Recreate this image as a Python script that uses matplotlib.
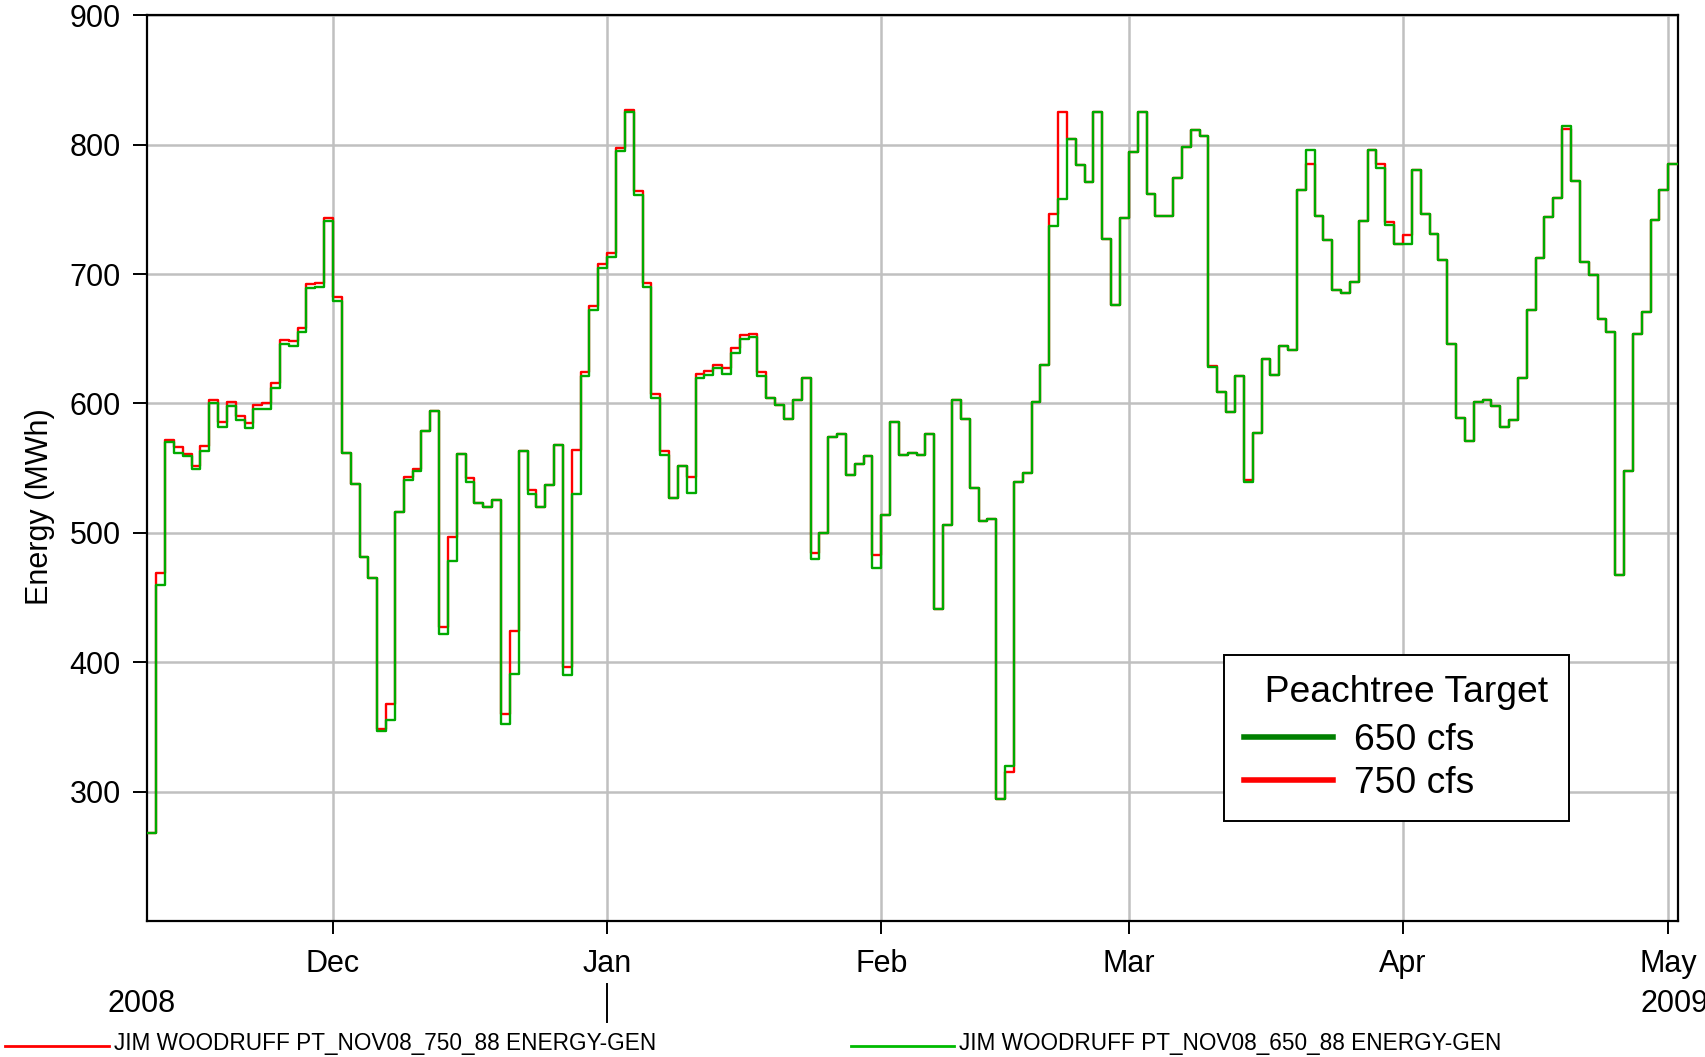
import numpy as np
import pandas as pd
import matplotlib
matplotlib.use("Agg")
import matplotlib.pyplot as plt
import matplotlib.dates as mdates
from matplotlib.lines import Line2D

plt.rcParams['font.family'] = ['Liberation Sans', 'DejaVu Sans']

# daily energy (MWh), 10 Nov 2008 - 1 May 2009
start_day = "2008-11-10"
gen_650 = [268, 460, 570, 562, 559, 549, 563, 600, 582, 598, 587, 581, 596, 596, 612,
           646, 644, 655, 689, 690, 741, 679, 562, 538, 481, 465, 347, 355, 516, 541,
           548, 579, 594, 422, 478, 561, 539, 523, 520, 525, 352, 391, 563, 530, 520,
           537, 568, 390, 530, 621, 672, 705, 713, 795, 825, 761, 690, 604, 560, 527,
           552, 531, 620, 622, 627, 623, 639, 650, 651, 621, 604, 599, 588, 603, 620,
           480, 500, 574, 576, 545, 553, 559, 473, 514, 586, 560, 562, 560, 576, 441,
           506, 603, 588, 535, 509, 511, 294, 320, 539, 546, 601, 630, 737, 758, 804,
           784, 771, 825, 727, 676, 743, 794, 825, 762, 745, 745, 774, 798, 811, 807,
           628, 609, 593, 621, 539, 577, 634, 622, 644, 641, 765, 796, 745, 726, 688,
           685, 694, 741, 796, 782, 738, 723, 723, 780, 746, 731, 711, 646, 589, 571,
           601, 603, 598, 582, 587, 620, 672, 712, 744, 759, 814, 772, 709, 699, 665,
           655, 467, 548, 654, 671, 742, 765, 785]
gen_750 = [268, 469, 572, 566, 561, 552, 567, 603, 586, 601, 590, 585, 599, 600, 616,
           649, 648, 658, 692, 693, 743, 682, 562, 538, 481, 465, 348, 368, 516, 543,
           549, 579, 594, 427, 497, 561, 542, 523, 520, 525, 360, 424, 563, 533, 520,
           537, 568, 396, 564, 624, 675, 708, 716, 797, 827, 764, 693, 607, 563, 527,
           552, 543, 623, 625, 630, 627, 643, 653, 654, 624, 604, 599, 588, 603, 620,
           484, 500, 574, 576, 545, 553, 559, 483, 514, 586, 560, 562, 560, 576, 441,
           506, 603, 588, 535, 509, 511, 294, 315, 539, 546, 601, 630, 746, 825, 804,
           784, 771, 825, 727, 676, 743, 794, 825, 762, 745, 745, 774, 798, 811, 807,
           629, 609, 593, 621, 541, 577, 634, 622, 644, 641, 765, 785, 745, 726, 688,
           685, 694, 741, 796, 785, 740, 723, 730, 780, 746, 731, 711, 646, 589, 571,
           601, 603, 598, 582, 587, 620, 672, 712, 744, 759, 812, 772, 709, 699, 665,
           655, 467, 548, 654, 671, 742, 765, 785]
month_labels = ["Dec", "Jan", "Feb", "Mar", "Apr", "May"]
x_end = pd.Timestamp("2009-05-02 03:00")

edges = list(pd.date_range(start_day, periods=len(gen_650), freq="D")) + [x_end]

fig = plt.figure(figsize=(17.05, 10.57), dpi=100)
ax = fig.add_axes([0.0864, 0.1287, 0.8979, 0.8569])

ax.step(edges, gen_750 + [gen_750[-1]], where='post', color='#FF0000', lw=1.7, zorder=3)
ax.step(edges, gen_650 + [gen_650[-1]], where='post', color='#00AA00', lw=1.7, zorder=4)

ax.set_xlim(pd.Timestamp(start_day), x_end)
ax.set_ylim(200, 900)
ax.set_yticks(range(300, 901, 100))

month_ticks = pd.date_range("2008-12-01", periods=6, freq="MS")
ax.set_xticks(month_ticks)
ax.set_xticklabels(month_labels)
ax.grid(True, color='#C0C0C0', lw=1.8)
ax.set_axisbelow(True)

for s in ax.spines.values():
    s.set_linewidth(1.6)
ax.tick_params(axis='both', labelsize=22, width=1.4)
ax.tick_params(axis='x', length=9, pad=11)
ax.tick_params(axis='y', length=10, pad=9)

fig.text(0.0235, 0.521, "Energy (MWh)", rotation=90, fontsize=22, ha='center', va='center')

# year labels and separator
fig.text(0.0828, 0.050, "2008", fontsize=22, ha='center', va='center')
fig.text(0.962, 0.050, "2009", fontsize=22, ha='left', va='center')
jan_x = ax.transData.transform((mdates.date2num(month_ticks[1]), 200))[0] / fig.bbox.width
fig.add_artist(Line2D([jan_x, jan_x], [0.033, 0.069], color='black', lw=1.4))

# legend box
handles = [Line2D([], [], color='#008000', lw=4),
           Line2D([], [], color='#FF0000', lw=4)]
leg = ax.legend(handles, ["650 cfs", "750 cfs"], title="  Peachtree Target",
                loc='upper left', bbox_to_anchor=(0.703, 0.294), borderaxespad=0,
                fontsize=26.8, title_fontsize=26.8, fancybox=False, framealpha=1,
                edgecolor='black', handlelength=2.4, handletextpad=0.55,
                labelspacing=0.22, borderpad=0.55, alignment='left')
leg._legend_box.sep = 26.8 * 0.34
leg.get_frame().set_linewidth(1.4)
leg.set_zorder(10)

# bottom series key
fig.add_artist(Line2D([0.003, 0.064], [0.0104, 0.0104], color='#FF0000', lw=2))
fig.text(0.0669, 0.0132, "JIM WOODRUFF PT_NOV08_750_88 ENERGY-GEN", fontsize=16.3, va='center')
fig.add_artist(Line2D([0.4994, 0.5594], [0.0104, 0.0104], color='#00BB00', lw=2))
fig.text(0.5625, 0.0132, "JIM WOODRUFF PT_NOV08_650_88 ENERGY-GEN", fontsize=16.3, va='center')

fig.savefig("out.png", dpi=100)
